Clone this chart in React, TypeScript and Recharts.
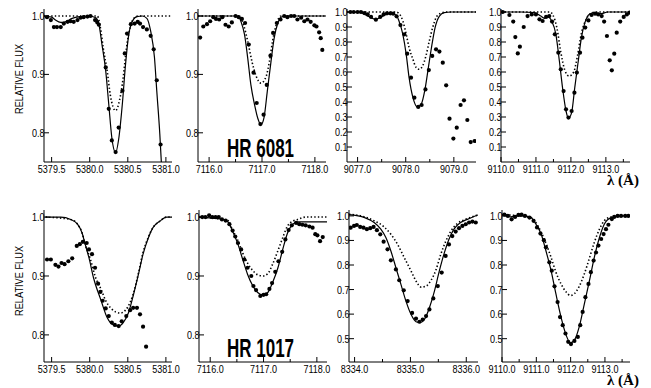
import { ComposedChart, Line, Scatter, XAxis, YAxis } from "recharts";

// ---------- HR 6081, 5380 line ----------
const p1SolidX = [5379.40, 5379.50, 5379.55, 5379.62, 5379.68, 5379.77, 5379.88, 5379.99, 5380.08, 5380.12, 5380.16, 5380.21, 5380.25, 5380.29, 5380.34, 5380.38, 5380.43, 5380.47, 5380.51, 5380.56, 5380.62, 5380.69, 5380.75, 5380.80, 5380.85, 5380.88, 5380.92, 5380.94, 5380.97];
const p1SolidY = [1.0, 0.998, 0.993, 0.989, 0.990, 0.996, 0.999, 1.0, 0.997, 0.986, 0.952, 0.906, 0.849, 0.792, 0.766, 0.789, 0.852, 0.917, 0.966, 0.991, 0.999, 1.0, 0.996, 0.974, 0.929, 0.872, 0.798, 0.75, 0.70];
const p1DotX = [5379.40, 5380.10, 5380.14, 5380.18, 5380.23, 5380.27, 5380.34, 5380.39, 5380.44, 5380.48, 5380.53, 5380.58, 5380.64, 5381.08];
const p1DotY = [1.0, 1.0, 0.980, 0.943, 0.905, 0.865, 0.838, 0.855, 0.895, 0.943, 0.980, 0.996, 1.0, 1.0];
const p1ObsX = [5379.44, 5379.49, 5379.53, 5379.57, 5379.62, 5379.66, 5379.71, 5379.75, 5379.79, 5379.84, 5379.88, 5379.92, 5379.97, 5380.01, 5380.07, 5380.10, 5380.12, 5380.21, 5380.25, 5380.29, 5380.34, 5380.38, 5380.43, 5380.46, 5380.49, 5380.54, 5380.59, 5380.63, 5380.66, 5380.70, 5380.75, 5380.80, 5380.84, 5380.88, 5380.93];
const p1ObsY = [0.998, 0.993, 0.981, 0.981, 0.981, 0.987, 0.990, 0.991, 0.990, 0.993, 0.997, 0.998, 0.999, 1.0, 0.993, 0.989, 0.985, 0.912, 0.841, 0.787, 0.767, 0.809, 0.872, 0.936, 0.970, 0.986, 0.987, 0.990, 0.987, 0.981, 0.977, 0.966, 0.943, 0.890, 0.780];

// ---------- HR 6081, 7117 line ----------
const p2SolidX = [7115.79, 7116.50, 7116.56, 7116.60, 7116.67, 7116.73, 7116.79, 7116.86, 7116.92, 7116.98, 7117.04, 7117.10, 7117.17, 7117.23, 7117.30, 7117.36, 7117.45, 7118.21];
const p2SolidY = [1.0, 1.0, 0.999, 0.991, 0.968, 0.928, 0.882, 0.848, 0.825, 0.814, 0.827, 0.871, 0.922, 0.962, 0.988, 0.998, 1.0, 1.0];
const p2DotX = [7115.79, 7116.57, 7116.65, 7116.73, 7116.81, 7116.89, 7116.98, 7117.08, 7117.14, 7117.20, 7117.27, 7117.36, 7118.21];
const p2DotY = [1.0, 1.0, 0.985, 0.957, 0.922, 0.897, 0.885, 0.897, 0.922, 0.957, 0.985, 1.0, 1.0];
const p2ObsX = [7115.83, 7115.89, 7115.96, 7116.02, 7116.08, 7116.13, 7116.19, 7116.25, 7116.31, 7116.37, 7116.43, 7116.50, 7116.56, 7116.62, 7116.68, 7116.75, 7116.84, 7116.90, 7116.97, 7117.03, 7117.09, 7117.16, 7117.21, 7117.28, 7117.35, 7117.42, 7117.48, 7117.55, 7117.61, 7117.67, 7117.74, 7117.80, 7117.86, 7117.92, 7117.99, 7118.03, 7118.08, 7118.11, 7118.14];
const p2ObsY = [0.963, 0.982, 0.986, 0.991, 0.998, 0.995, 0.994, 0.998, 0.985, 0.982, 0.989, 1.0, 0.998, 0.995, 0.988, 0.951, 0.903, 0.851, 0.815, 0.831, 0.882, 0.932, 0.971, 0.988, 0.994, 1.0, 0.998, 1.0, 1.0, 0.994, 0.997, 0.991, 0.994, 0.990, 0.984, 0.982, 0.972, 0.962, 0.942];

// ---------- HR 6081, 9078 line ----------
const p3SolidX = [9076.78, 9077.07, 9077.17, 9077.28, 9077.38, 9077.49, 9077.59, 9077.69, 9077.80, 9077.86, 9077.94, 9078.01, 9078.07, 9078.15, 9078.24, 9078.32, 9078.40, 9078.47, 9078.54, 9078.61, 9078.70, 9078.80, 9078.94, 9079.46];
const p3SolidY = [1.0, 0.996, 0.98, 0.962, 0.951, 0.967, 0.984, 0.989, 0.98, 0.94, 0.851, 0.718, 0.562, 0.429, 0.367, 0.384, 0.484, 0.629, 0.773, 0.896, 0.973, 0.996, 1.0, 1.0];
const p3DotX = [9076.78, 9077.80, 9077.86, 9077.94, 9078.01, 9078.07, 9078.15, 9078.21, 9078.28, 9078.35, 9078.42, 9078.49, 9078.56, 9078.65, 9078.77, 9078.87, 9079.46];
const p3DotY = [1.0, 1.0, 0.99, 0.94, 0.851, 0.762, 0.684, 0.633, 0.618, 0.64, 0.707, 0.807, 0.896, 0.973, 0.996, 1.0, 1.0];
const p3ObsX = [9076.85, 9076.92, 9077.00, 9077.07, 9077.14, 9077.21, 9077.28, 9077.38, 9077.47, 9077.54, 9077.61, 9077.68, 9077.74, 9077.81, 9077.89, 9077.97, 9078.03, 9078.11, 9078.18, 9078.26, 9078.33, 9078.41, 9078.48, 9078.55, 9078.63, 9078.70, 9078.77, 9078.84, 9078.91, 9078.99, 9079.06, 9079.14, 9079.21, 9079.28, 9079.35, 9079.43];
const p3ObsY = [1.0, 1.0, 1.0, 1.0, 0.993, 0.984, 0.967, 0.949, 0.967, 0.984, 0.991, 0.991, 0.989, 0.971, 0.913, 0.851, 0.722, 0.562, 0.429, 0.367, 0.38, 0.484, 0.613, 0.707, 0.751, 0.736, 0.662, 0.511, 0.289, 0.156, 0.229, 0.38, 0.411, 0.28, 0.133, 0.14];

// ---------- HR 6081, 9112 line ----------
const p4SolidX = [9110.0, 9110.57, 9110.95, 9111.14, 9111.24, 9111.33, 9111.45, 9111.57, 9111.67, 9111.76, 9111.86, 9111.93, 9112.02, 9112.11, 9112.21, 9112.30, 9112.40, 9112.52, 9112.67, 9112.86, 9113.05, 9113.69];
const p4SolidY = [1.0, 1.0, 0.996, 0.973, 0.958, 0.969, 0.94, 0.851, 0.673, 0.496, 0.34, 0.291, 0.329, 0.496, 0.673, 0.829, 0.929, 0.984, 0.996, 0.989, 1.0, 1.0];
const p4DotX = [9110.0, 9111.40, 9111.48, 9111.60, 9111.71, 9111.83, 9111.95, 9112.08, 9112.19, 9112.30, 9112.43, 9112.57, 9112.71, 9113.69];
const p4DotY = [1.0, 1.0, 0.982, 0.893, 0.733, 0.609, 0.573, 0.6, 0.711, 0.858, 0.947, 0.991, 1.0, 1.0];
const p4ObsX = [9110.05, 9110.24, 9110.35, 9110.41, 9110.48, 9110.54, 9110.65, 9110.76, 9110.88, 9111.00, 9111.10, 9111.19, 9111.29, 9111.38, 9111.46, 9111.54, 9111.64, 9111.71, 9111.79, 9111.86, 9111.93, 9112.02, 9112.10, 9112.17, 9112.26, 9112.33, 9112.41, 9112.50, 9112.59, 9112.69, 9112.78, 9112.88, 9112.95, 9113.03, 9113.11, 9113.17, 9113.24, 9113.31, 9113.41, 9113.51, 9113.60, 9113.68];
const p4ObsY = [1.0, 0.98, 0.936, 0.833, 0.724, 0.769, 0.9, 0.973, 0.984, 0.984, 0.951, 0.94, 0.967, 0.973, 0.936, 0.851, 0.729, 0.618, 0.473, 0.351, 0.296, 0.34, 0.462, 0.596, 0.729, 0.829, 0.896, 0.944, 0.98, 0.989, 0.984, 0.973, 0.936, 0.84, 0.678, 0.611, 0.722, 0.862, 0.936, 0.967, 0.984, 0.996];

// ---------- HR 1017, 5380 line ----------
const p5SolidX = [5379.42, 5379.62, 5379.75, 5379.84, 5379.90, 5379.94, 5379.99, 5380.05, 5380.15, 5380.23, 5380.31, 5380.38, 5380.44, 5380.51, 5380.57, 5380.64, 5380.70, 5380.77, 5380.83, 5380.92, 5381.01, 5381.08];
const p5SolidY = [1.0, 1.0, 0.996, 0.988, 0.973, 0.954, 0.931, 0.897, 0.858, 0.829, 0.817, 0.815, 0.821, 0.838, 0.866, 0.903, 0.937, 0.965, 0.982, 0.993, 1.0, 1.0];
const p5DotX = [5379.42, 5379.75, 5379.84, 5379.90, 5379.94, 5380.01, 5380.07, 5380.15, 5380.21, 5380.28, 5380.34, 5380.40, 5380.47, 5380.53, 5380.57, 5380.64, 5380.70, 5380.77, 5380.83, 5380.92, 5381.01, 5381.08];
const p5DotY = [1.0, 0.996, 0.988, 0.973, 0.954, 0.928, 0.9, 0.877, 0.858, 0.845, 0.839, 0.837, 0.842, 0.855, 0.869, 0.905, 0.94, 0.966, 0.982, 0.993, 1.0, 1.0];
const p5ObsX = [5379.44, 5379.49, 5379.55, 5379.59, 5379.63, 5379.67, 5379.72, 5379.77, 5379.83, 5379.87, 5379.91, 5379.96, 5379.99, 5380.03, 5380.07, 5380.11, 5380.14, 5380.17, 5380.21, 5380.25, 5380.29, 5380.33, 5380.38, 5380.42, 5380.48, 5380.53, 5380.57, 5380.62, 5380.66, 5380.70, 5380.74];
const p5ObsY = [0.928, 0.928, 0.919, 0.916, 0.922, 0.920, 0.925, 0.930, 0.951, 0.954, 0.958, 0.956, 0.945, 0.937, 0.914, 0.887, 0.873, 0.858, 0.845, 0.832, 0.821, 0.817, 0.815, 0.823, 0.832, 0.842, 0.846, 0.846, 0.835, 0.814, 0.78];

// ---------- HR 1017, 7117 line ----------
const p6SolidX = [7115.79, 7116.24, 7116.33, 7116.42, 7116.52, 7116.61, 7116.70, 7116.80, 7116.89, 7116.99, 7117.08, 7117.17, 7117.27, 7117.36, 7117.45, 7117.55, 7117.64, 7117.73, 7117.92, 7118.19];
const p6SolidY = [1.0, 0.996, 0.992, 0.976, 0.954, 0.928, 0.903, 0.883, 0.872, 0.868, 0.872, 0.889, 0.914, 0.945, 0.973, 0.988, 0.992, 0.992, 0.992, 0.992];
const p6DotX = [7115.79, 7116.33, 7116.42, 7116.52, 7116.61, 7116.70, 7116.80, 7116.89, 7116.99, 7117.08, 7117.17, 7117.27, 7117.36, 7117.45, 7117.55, 7117.64, 7117.79, 7118.19];
const p6DotY = [1.0, 0.994, 0.978, 0.96, 0.939, 0.922, 0.909, 0.902, 0.9, 0.904, 0.92, 0.943, 0.965, 0.985, 0.993, 0.996, 1.0, 1.0];
const p6ObsX = [7115.85, 7115.91, 7115.98, 7116.04, 7116.10, 7116.16, 7116.22, 7116.29, 7116.36, 7116.42, 7116.47, 7116.52, 7116.58, 7116.64, 7116.70, 7116.77, 7116.81, 7116.86, 7116.94, 7117.00, 7117.05, 7117.11, 7117.16, 7117.22, 7117.28, 7117.35, 7117.41, 7117.47, 7117.53, 7117.61, 7117.67, 7117.73, 7117.79, 7117.86, 7117.92, 7117.97, 7118.01, 7118.06, 7118.11];
const p6ObsY = [1.0, 1.0, 1.003, 1.0, 1.0, 1.0, 0.996, 0.994, 0.988, 0.977, 0.967, 0.956, 0.945, 0.928, 0.914, 0.9, 0.883, 0.876, 0.866, 0.868, 0.869, 0.878, 0.888, 0.907, 0.925, 0.941, 0.962, 0.978, 0.986, 0.990, 0.988, 0.987, 0.986, 0.984, 0.982, 0.971, 0.969, 0.959, 0.966];

// ---------- HR 1017, 8335 line ----------
const p7SolidX = [8333.90, 8334.18, 8334.35, 8334.47, 8334.56, 8334.65, 8334.74, 8334.83, 8334.92, 8335.01, 8335.10, 8335.18, 8335.25, 8335.34, 8335.43, 8335.51, 8335.60, 8335.69, 8335.78, 8335.90, 8336.02, 8336.21];
const p7SolidY = [1.005, 0.993, 0.973, 0.946, 0.912, 0.857, 0.789, 0.721, 0.653, 0.599, 0.569, 0.565, 0.578, 0.626, 0.694, 0.769, 0.844, 0.905, 0.946, 0.973, 0.986, 1.004];
const p7DotX = [8333.90, 8334.18, 8334.35, 8334.53, 8334.65, 8334.77, 8334.89, 8335.01, 8335.10, 8335.19, 8335.28, 8335.37, 8335.46, 8335.54, 8335.63, 8335.72, 8335.84, 8335.99, 8336.21];
const p7DotY = [1.007, 0.996, 0.98, 0.955, 0.925, 0.884, 0.830, 0.776, 0.735, 0.710, 0.714, 0.738, 0.782, 0.841, 0.895, 0.936, 0.969, 0.986, 1.004];
const p7ObsX = [8333.93, 8333.99, 8334.04, 8334.10, 8334.16, 8334.22, 8334.28, 8334.34, 8334.40, 8334.46, 8334.52, 8334.59, 8334.65, 8334.74, 8334.80, 8334.88, 8334.95, 8335.03, 8335.10, 8335.16, 8335.22, 8335.28, 8335.34, 8335.41, 8335.49, 8335.56, 8335.63, 8335.69, 8335.75, 8335.81, 8335.87, 8335.93, 8335.99, 8336.05, 8336.11, 8336.17];
const p7ObsY = [0.952, 0.959, 0.963, 0.955, 0.952, 0.946, 0.950, 0.955, 0.942, 0.925, 0.895, 0.864, 0.819, 0.782, 0.738, 0.697, 0.653, 0.605, 0.582, 0.569, 0.578, 0.592, 0.619, 0.664, 0.714, 0.769, 0.837, 0.884, 0.918, 0.936, 0.950, 0.959, 0.966, 0.973, 0.977, 0.973];

// ---------- HR 1017, 9112 line ----------
const p8SolidX = [9110.0, 9110.26, 9110.41, 9110.65, 9110.85, 9110.99, 9111.14, 9111.28, 9111.43, 9111.57, 9111.72, 9111.87, 9111.99, 9112.11, 9112.25, 9112.40, 9112.55, 9112.69, 9112.84, 9112.98, 9113.18, 9113.47, 9113.73];
const p8SolidY = [1.005, 0.996, 1.0, 1.0, 0.993, 0.966, 0.926, 0.858, 0.777, 0.683, 0.588, 0.514, 0.483, 0.494, 0.548, 0.642, 0.737, 0.831, 0.912, 0.966, 0.993, 1.0, 1.0];
const p8DotX = [9110.0, 9110.85, 9111.04, 9111.23, 9111.43, 9111.57, 9111.72, 9111.87, 9111.99, 9112.11, 9112.25, 9112.40, 9112.55, 9112.69, 9112.84, 9112.98, 9113.18, 9113.73];
const p8DotY = [1.005, 0.993, 0.96, 0.906, 0.831, 0.771, 0.723, 0.690, 0.676, 0.683, 0.713, 0.764, 0.829, 0.892, 0.946, 0.98, 0.996, 1.0];
const p8ObsX = [9110.07, 9110.17, 9110.28, 9110.38, 9110.48, 9110.57, 9110.67, 9110.80, 9110.92, 9111.02, 9111.12, 9111.22, 9111.28, 9111.38, 9111.45, 9111.53, 9111.62, 9111.69, 9111.77, 9111.85, 9111.93, 9112.01, 9112.11, 9112.21, 9112.28, 9112.35, 9112.43, 9112.52, 9112.59, 9112.67, 9112.74, 9112.81, 9112.89, 9112.96, 9113.03, 9113.10, 9113.20, 9113.27, 9113.37, 9113.47, 9113.59, 9113.68];
const p8ObsY = [1.005, 1.0, 0.986, 0.996, 1.004, 1.005, 1.0, 0.993, 0.98, 0.953, 0.928, 0.901, 0.872, 0.811, 0.777, 0.713, 0.649, 0.588, 0.555, 0.521, 0.487, 0.478, 0.491, 0.507, 0.555, 0.609, 0.669, 0.723, 0.771, 0.818, 0.851, 0.879, 0.906, 0.926, 0.946, 0.964, 0.987, 0.996, 1.0, 1.0, 1.0, 1.0];

// ---------- ticks ----------
const ticks5380 = [5379.5, 5380.0, 5380.5, 5381.0];
const ticks7117 = [7116.0, 7116.5, 7117.0, 7117.5, 7118.0];
const labels7117 = [7116.0, 7117.0, 7118.0];
const ticks9078 = [9077.0, 9077.5, 9078.0, 9078.5, 9079.0];
const labels9078 = [9077.0, 9078.0, 9079.0];
const ticks9112 = [9110.0, 9110.5, 9111.0, 9111.5, 9112.0, 9112.5, 9113.0, 9113.5];
const labels9112 = [9110.0, 9111.0, 9112.0, 9113.0];
const ticks8335 = [8334.0, 8334.5, 8335.0, 8335.5, 8336.0];
const labels8335 = [8334.0, 8335.0, 8336.0];
const fluxTicksNarrow = [0.8, 0.9, 1.0];
const fluxTicksFull = [0.1, 0.2, 0.3, 0.4, 0.5, 0.6, 0.7, 0.8, 0.9, 1.0];
const fluxTicksHalf = [0.5, 0.6, 0.7, 0.8, 0.9, 1.0];

const FONT = "'Liberation Sans', Arial, sans-serif";
const SQUEEZE = 0.82; // the original uses a narrow Helvetica
const AXW = 40;
const AXH = 22;
const PAD = 4;
const PADR = 16;

type Pt = { x: number; y: number };
const zip = (xs: number[], ys: number[]): Pt[] => xs.map((x, i) => ({ x, y: ys[i] }));

function BottomTick({ x, y, payload, labels }: any) {
  const major = labels.includes(payload.value);
  return (
    <g>
      <line x1={x} y1={y} x2={x} y2={y - (major ? 5 : 3)} stroke="#000" />
      {major && (
        <text
          transform={`translate(${x},${y + 11}) scale(${SQUEEZE},1)`}
          textAnchor="middle"
          fontSize={11}
          fontFamily={FONT}
          fill="#000"
        >
          {payload.value.toFixed(1)}
        </text>
      )}
    </g>
  );
}

function TopTick({ x, y, payload, labels }: any) {
  const major = labels.includes(payload.value);
  return <line x1={x} y1={y} x2={x} y2={y + (major ? 5 : 3)} stroke="#000" />;
}

function LeftTick({ x, y, payload }: any) {
  return (
    <g>
      <line x1={x} y1={y} x2={x + 5} y2={y} stroke="#000" />
      <text
        transform={`translate(${x + 0.5},${y + 4}) scale(${SQUEEZE},1)`}
        textAnchor="end"
        fontSize={11}
        fontFamily={FONT}
        fill="#000"
      >
        {payload.value.toFixed(1)}
      </text>
    </g>
  );
}

function RightTick({ x, y }: any) {
  return <line x1={x} y1={y} x2={x - 5} y2={y} stroke="#000" />;
}

const dotShape = (p: any) => <circle cx={p.cx} cy={p.cy} r={2.1} fill="#000" />;

interface PanelProps {
  left: number;
  top: number;
  right: number;
  bottom: number;
  xDomain: [number, number];
  yDomain: [number, number];
  xTicks: number[];
  xLabels: number[];
  yTicks: number[];
  solid: Pt[];
  dotted: Pt[];
  obs: Pt[];
}

function Panel(p: PanelProps) {
  const w = p.right - p.left;
  const h = p.bottom - p.top;
  return (
    <div style={{ position: "absolute", left: p.left - AXW, top: p.top - PAD }}>
      <ComposedChart
        width={w + AXW + PADR}
        height={h + PAD + AXH}
        margin={{ top: PAD, right: PADR, bottom: 0, left: 0 }}
      >
        <XAxis
          xAxisId="b"
          type="number"
          dataKey="x"
          domain={p.xDomain}
          allowDataOverflow
          ticks={p.xTicks}
          interval={0}
          height={AXH}
          tickSize={0}
          tickMargin={0}
          tickLine={false}
          axisLine={{ stroke: "#000" }}
          tick={(t: any) => <BottomTick {...t} labels={p.xLabels} />}
        />
        <XAxis
          xAxisId="t"
          orientation="top"
          type="number"
          dataKey="x"
          domain={p.xDomain}
          allowDataOverflow
          ticks={p.xTicks}
          interval={0}
          height={0}
          tickSize={0}
          tickMargin={0}
          tickLine={false}
          axisLine={{ stroke: "#000" }}
          tick={(t: any) => <TopTick {...t} labels={p.xLabels} />}
        />
        <YAxis
          yAxisId="l"
          type="number"
          dataKey="y"
          domain={p.yDomain}
          allowDataOverflow
          ticks={p.yTicks}
          interval={0}
          width={AXW}
          tickSize={0}
          tickMargin={0}
          tickLine={false}
          axisLine={{ stroke: "#000" }}
          tick={(t: any) => <LeftTick {...t} />}
        />
        <YAxis
          yAxisId="r"
          orientation="right"
          type="number"
          dataKey="y"
          domain={p.yDomain}
          allowDataOverflow
          ticks={p.yTicks}
          interval={0}
          width={0}
          tickSize={0}
          tickMargin={0}
          tickLine={false}
          axisLine={{ stroke: "#000" }}
          tick={(t: any) => <RightTick {...t} />}
        />
        <Line
          xAxisId="b"
          yAxisId="l"
          data={p.dotted}
          dataKey="y"
          type="monotone"
          stroke="#000"
          strokeWidth={1.6}
          strokeDasharray="1.4 2.2"
          dot={false}
          isAnimationActive={false}
        />
        <Line
          xAxisId="b"
          yAxisId="l"
          data={p.solid}
          dataKey="y"
          type="monotone"
          stroke="#000"
          strokeWidth={1.2}
          dot={false}
          isAnimationActive={false}
        />
        <Scatter
          xAxisId="b"
          yAxisId="l"
          data={p.obs}
          dataKey="y"
          shape={dotShape}
          isAnimationActive={false}
        />
      </ComposedChart>
    </div>
  );
}

const panels: PanelProps[] = [
  { left: 43.5, top: 8.5, right: 171.5, bottom: 161.5, xDomain: [5379.40, 5381.08], yDomain: [0.75, 1.012], xTicks: ticks5380, xLabels: ticks5380, yTicks: fluxTicksNarrow, solid: zip(p1SolidX, p1SolidY), dotted: zip(p1DotX, p1DotY), obs: zip(p1ObsX, p1ObsY) },
  { left: 197.5, top: 8.5, right: 325.5, bottom: 161.5, xDomain: [7115.79, 7118.21], yDomain: [0.75, 1.012], xTicks: ticks7117, xLabels: labels7117, yTicks: fluxTicksNarrow, solid: zip(p2SolidX, p2SolidY), dotted: zip(p2DotX, p2DotY), obs: zip(p2ObsX, p2ObsY) },
  { left: 346.5, top: 8.5, right: 475.5, bottom: 161.5, xDomain: [9076.78, 9079.46], yDomain: [0, 1.02], xTicks: ticks9078, xLabels: labels9078, yTicks: fluxTicksFull, solid: zip(p3SolidX, p3SolidY), dotted: zip(p3DotX, p3DotY), obs: zip(p3ObsX, p3ObsY) },
  { left: 500.5, top: 8.5, right: 629.5, bottom: 161.5, xDomain: [9110.0, 9113.69], yDomain: [0, 1.02], xTicks: ticks9112, xLabels: labels9112, yTicks: fluxTicksFull, solid: zip(p4SolidX, p4SolidY), dotted: zip(p4DotX, p4DotY), obs: zip(p4ObsX, p4ObsY) },
  { left: 43.5, top: 209.5, right: 171.5, bottom: 361.5, xDomain: [5379.40, 5381.08], yDomain: [0.754, 1.012], xTicks: ticks5380, xLabels: ticks5380, yTicks: fluxTicksNarrow, solid: zip(p5SolidX, p5SolidY), dotted: zip(p5DotX, p5DotY), obs: zip(p5ObsX, p5ObsY) },
  { left: 198.5, top: 209.5, right: 326.5, bottom: 361.5, xDomain: [7115.79, 7118.19], yDomain: [0.754, 1.012], xTicks: ticks7117, xLabels: labels7117, yTicks: fluxTicksNarrow, solid: zip(p6SolidX, p6SolidY), dotted: zip(p6DotX, p6DotY), obs: zip(p6ObsX, p6ObsY) },
  { left: 348.5, top: 209.5, right: 477.5, bottom: 361.5, xDomain: [8333.90, 8336.21], yDomain: [0.405, 1.024], xTicks: ticks8335, xLabels: labels8335, yTicks: fluxTicksHalf, solid: zip(p7SolidX, p7SolidY), dotted: zip(p7DotX, p7DotY), obs: zip(p7ObsX, p7ObsY) },
  { left: 501.5, top: 209.5, right: 629.5, bottom: 361.5, xDomain: [9110.0, 9113.73], yDomain: [0.405, 1.024], xTicks: ticks9112, xLabels: labels9112, yTicks: fluxTicksHalf, solid: zip(p8SolidX, p8SolidY), dotted: zip(p8DotX, p8DotY), obs: zip(p8ObsX, p8ObsY) },
];

export default function App() {
  return (
    <div style={{ position: "absolute", left: 0, top: 0, width: 651, height: 388, background: "#fff", overflow: "hidden" }}>
      {panels.map((p, i) => (
        <Panel key={i} {...p} />
      ))}
      <svg width={651} height={388} style={{ position: "absolute", left: 0, top: 0, pointerEvents: "none" }}>
        <text transform="translate(23,79) rotate(-90) scale(0.84,1)" textAnchor="middle" fontSize={11} fontFamily={FONT} fill="#000">
          RELATIVE FLUX
        </text>
        <text transform="translate(23,281) rotate(-90) scale(0.84,1)" textAnchor="middle" fontSize={11} fontFamily={FONT} fill="#000">
          RELATIVE FLUX
        </text>
        <text transform="translate(227,157) scale(0.68,1)" fontSize={25} fontWeight="bold" fontFamily={FONT} fill="#000">
          HR 6081
        </text>
        <text transform="translate(227,357) scale(0.68,1)" fontSize={25} fontWeight="bold" fontFamily={FONT} fill="#000">
          HR 1017
        </text>
        <text x={607} y={185} fontSize={15} fontWeight="bold" fontFamily="'Liberation Serif', serif" fill="#000">
          λ (Å)
        </text>
        <text x={607} y={385} fontSize={15} fontWeight="bold" fontFamily="'Liberation Serif', serif" fill="#000">
          λ (Å)
        </text>
      </svg>
    </div>
  );
}
